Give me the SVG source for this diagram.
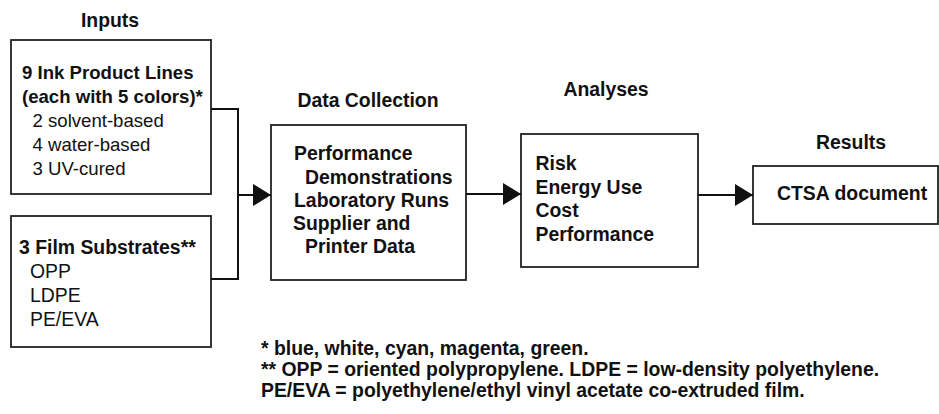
<svg xmlns="http://www.w3.org/2000/svg" width="939" height="414" viewBox="0 0 939 414">
<style>
text{font-family:"Liberation Sans",Arial,sans-serif;fill:#111;font-size:19.4px}
.h{font-weight:bold}
.s{font-size:18.6px}
.box{fill:#fff;stroke:#222;stroke-width:1.8}
.ln{fill:none;stroke:#111;stroke-width:2}
</style>
<defs>
<marker id="ah" markerUnits="userSpaceOnUse" markerWidth="20" markerHeight="22" refX="18" refY="11" orient="auto">
<polygon points="0,0 18,11 0,22" fill="#111"/>
</marker>
</defs>
<g id="labels">
<text class="h" x="110" y="27" text-anchor="middle">Inputs</text>
<text class="h" x="368" y="107" text-anchor="middle">Data Collection</text>
<text class="h" x="606" y="96" text-anchor="middle">Analyses</text>
<text class="h" x="851" y="149" text-anchor="middle">Results</text>
</g>
<g id="inks">
<rect class="box" x="11" y="40" width="200" height="154"/>
<text class="h s" x="22" y="79">9 Ink Product Lines</text>
<text class="h s" x="22" y="103">(each with 5 colors)*</text>
<text class="s" x="32.5" y="127">2 solvent-based</text>
<text class="s" x="32.5" y="151">4 water-based</text>
<text class="s" x="32.5" y="175">3 UV-cured</text>
</g>
<g id="films">
<rect class="box" x="11" y="216" width="200" height="131"/>
<text class="h" x="19" y="254">3 Film Substrates**</text>
<text x="30" y="278">OPP</text>
<text x="30" y="302">LDPE</text>
<text x="30" y="326">PE/EVA</text>
</g>
<g id="datacollection">
<rect class="box" x="271" y="125" width="195" height="155"/>
<text class="h" x="294" y="160">Performance</text>
<text class="h" x="305" y="183.5">Demonstrations</text>
<text class="h" x="294" y="207">Laboratory Runs</text>
<text class="h" x="293" y="230">Supplier and</text>
<text class="h" x="305" y="253">Printer Data</text>
</g>
<g id="analyses">
<rect class="box" x="521" y="134" width="177" height="133"/>
<text class="h" x="535.5" y="170">Risk</text>
<text class="h" x="535.5" y="193.5">Energy Use</text>
<text class="h" x="535.5" y="217">Cost</text>
<text class="h" x="535.5" y="240.5">Performance</text>
</g>
<g id="results">
<rect class="box" x="753" y="166" width="185" height="58"/>
<text class="h" x="777" y="200">CTSA document</text>
</g>
<g id="connectors">
<polyline class="ln" points="211,109 238,109 238,279 211,279"/>
<line class="ln" x1="238" y1="195" x2="271" y2="195" marker-end="url(#ah)"/>
<line class="ln" x1="466" y1="194" x2="521" y2="194" marker-end="url(#ah)"/>
<line class="ln" x1="698" y1="195" x2="753" y2="195" marker-end="url(#ah)"/>
</g>
<g id="footnotes">
<text class="h" x="261" y="355">* blue, white, cyan, magenta, green.</text>
<text class="h" x="261" y="376">** OPP = oriented polypropylene. LDPE = low-density polyethylene.</text>
<text class="h" x="261" y="397">PE/EVA = polyethylene/ethyl vinyl acetate co-extruded film.</text>
</g>
</svg>
